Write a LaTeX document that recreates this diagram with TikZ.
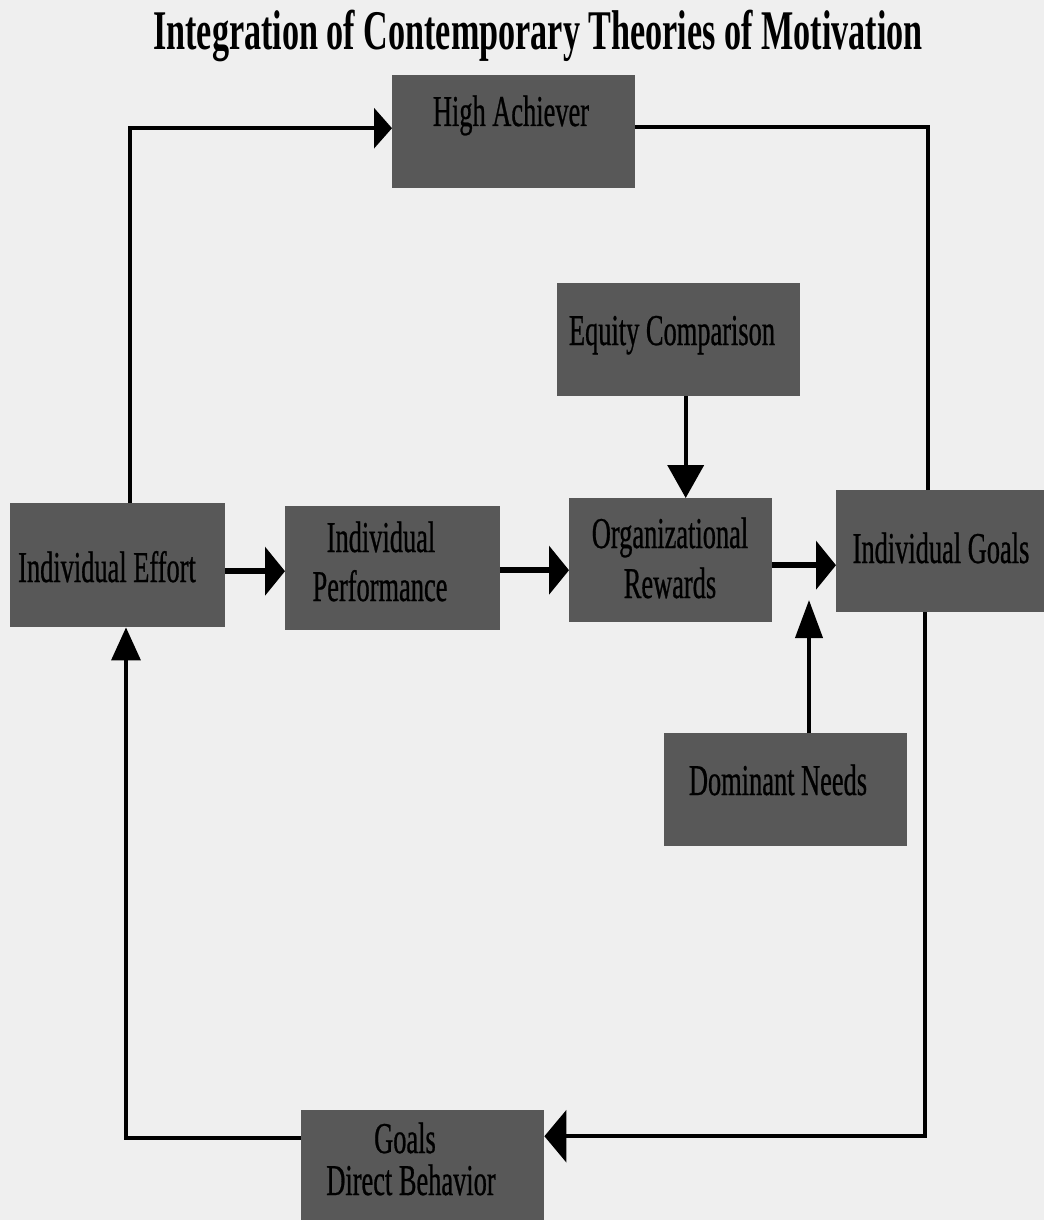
\documentclass[tikz,border=0pt]{standalone}
\usepackage{fontspec}
\setmainfont{Liberation Serif}
\newfontfamily\boxfont[FakeStretch=0.6,FakeBold=0.6]{Liberation Serif}
\newfontfamily\titlefont[FakeStretch=0.61]{Liberation Serif}
\usetikzlibrary{arrows.meta}
\definecolor{paper}{HTML}{EFEFEF}
\definecolor{boxgray}{HTML}{585858}
\begin{document}
\begin{tikzpicture}[x=1pt,y=-1pt,
  box/.style={fill=boxgray, draw=none, inner sep=0pt, anchor=north west},
  lbl/.style={inner sep=0pt, anchor=base, font=\boxfont\fontsize{44}{50}\selectfont},
  loop/.style={line width=3.5pt},
  feed/.style={line width=6pt},
  stem/.style={line width=4pt},
  tipH/.style={-{Triangle[length=20pt,width=48pt]}},
  tipV/.style={-{Triangle[length=33pt,width=36pt]}},
  tipU/.style={-{Triangle[length=33pt,width=29pt]}},
  tipN/.style={-{Triangle[length=38pt,width=27pt]}},
  tipB/.style={-{Triangle[length=22pt,width=52pt]}},
  tipL/.style={-{Triangle[length=18pt,width=40pt]}}]
% page
\fill[paper] (0,0) rectangle (1044,1220);
\useasboundingbox (0,0) rectangle (1044,1220);

% title
\node[inner sep=0pt, anchor=base, font=\titlefont\bfseries\fontsize{56}{60}\selectfont] (title) at (538,50)
  {Integration of Contemporary Theories of Motivation};

% boxes
\node[box, minimum width=243pt, minimum height=113pt] (ha) at (392,75) {};
\node[box, minimum width=243pt, minimum height=113pt] (ec) at (557,283) {};
\node[box, minimum width=215pt, minimum height=124pt] (ie) at (10,503) {};
\node[box, minimum width=215pt, minimum height=124pt] (ip) at (285,506) {};
\node[box, minimum width=203pt, minimum height=124pt] (or) at (569,498) {};
\node[box, minimum width=208pt, minimum height=122pt] (ig) at (836,490) {};
\node[box, minimum width=243pt, minimum height=113pt] (dn) at (664,733) {};
\node[box, minimum width=243pt, minimum height=112pt] (gd) at (301,1110) {};

% box texts
\node[lbl] (hat) at (511,126) {High Achiever};
\node[lbl] (ect) at (672,345) {Equity Comparison};
\node[lbl] (iet) at (107,582) {Individual Effort};
\node[lbl] (ipt1) at (381,552) {Individual};
\node[lbl] (ipt2) at (380,601) {Performance};
\node[lbl] (ort1) at (670,548) {Organizational};
\node[lbl] (ort2) at (670,598) {Rewards};
\node[lbl] (igt) at (941,563) {Individual Goals};
\node[lbl] (dnt) at (778,795) {Dominant Needs};
\node[lbl] (gdt1) at (405,1153) {Goals};
\node[lbl] (gdt2) at (411,1195) {Direct Behavior};

% outer loop
\draw[loop, tipL] ([xshift=120pt]ie.north west) |- ([yshift=3.5pt]ha.west);
\draw[loop] ([yshift=4.5pt]ha.east) -| ([xshift=92pt]ig.north west);
\draw[loop, tipB] ([xshift=89pt]ig.south west) |- ([yshift=30pt]gd.east);
\draw[loop, tipU] ([yshift=28pt]gd.west) -| ([xshift=116pt]ie.south west);

% main chain
\draw[feed, tipH] ([yshift=-6pt]ie.east) -- ([yshift=-6pt]ie.east -| ip.west);
\draw[feed, tipH] ([yshift=-2pt]ip.east) -- ([yshift=-2pt]ip.east -| or.west);
\draw[feed, tipH] ([yshift=-5pt]or.east) -- ([yshift=-5pt]or.east -| ig.west);

% side influences
\draw[stem, tipV] ([xshift=7pt]ec.south) -- ([xshift=7pt]ec.south |- or.north);
\coordinate (dntip) at (809,600);
\draw[stem, tipN] (dn.north -| dntip) -- (dntip);
\end{tikzpicture}
\end{document}
